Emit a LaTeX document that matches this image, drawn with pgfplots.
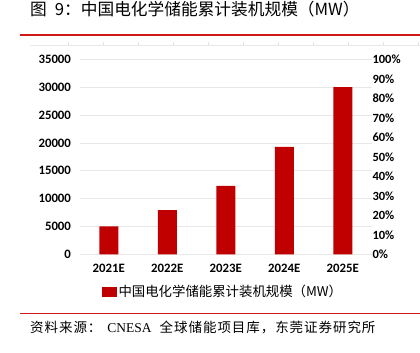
\documentclass[border=0pt]{standalone}
\usepackage{fontspec}
\setmainfont{Carlito}
\newfontfamily\cjk{Noto Sans CJK SC}
\newfontfamily\cjksrc[LetterSpace=7]{Noto Sans CJK SC}
\newfontfamily\serif{Liberation Serif}
\usepackage{pgfplots}
\pgfplotsset{compat=1.18}
\definecolor{barred}{HTML}{C00000}
\definecolor{linered}{HTML}{D01818}
\begin{document}
\begin{tikzpicture}[x=1pt,y=1pt]
\path[use as bounding box] (0,0) rectangle (420,353);
\node[anchor=base west, inner sep=0] at (30,337) {\cjk\fontsize{16.7}{18}\selectfont 图\hspace{8pt}9：中国电化学储能累计装机规模（MW）};
\draw[linered, line width=1.3pt] (20,318) -- (420,318);
\draw[gray!18, line width=0.6pt] (30,308) -- (420,308);
\foreach \x in {68,103,...,418} \draw[gray!22, line width=0.6pt] (\x,308) -- (\x,310.5);
\draw[linered, line width=1.3pt] (20,39.7) -- (420,39.7);
\node[anchor=base west, inner sep=0] at (30,20) {\cjksrc\fontsize{13.5}{15}\selectfont 资料来源：\hspace{6pt}{\serif CNESA}\hspace{8pt}全球储能项目库，东莞证券研究所};

\begin{axis}[
  at={(79.5pt,98.7pt)}, anchor=south west, scale only axis,
  width=292.5pt, height=195pt,
  xmin=-0.5, xmax=4.5, ymin=0, ymax=35000,
  ytick={0,5000,10000,15000,20000,25000,30000,35000},
  scaled y ticks=false,
  xtick={0,1,2,3,4},
  xticklabels={2021E,2022E,2023E,2024E,2025E},
  axis line style={draw=none},
  major tick length=0pt,
  ymajorgrids, grid style={gray!18, line width=0.6pt},
  /pgf/number format/assume math mode=true,
  /pgf/number format/1000 sep={},
  tick label style={font=\bfseries\fontsize{12.8}{14}\selectfont, text=black},
  yticklabel style={xshift=-5pt},
  xticklabel style={yshift=-6pt},
  legend style={at={(0.49,-0.193)}, anchor=center, draw=none, fill=none,
    font=\cjk\fontsize{13.4}{15}\selectfont, inner sep=0pt},
  legend image code/.code={\fill[barred] (0pt,-5pt) rectangle (15pt,5pt);},
]
\addplot[ybar, bar width=19pt, fill=barred, draw=none] coordinates {(0,5000) (1,7950) (2,12300) (3,19300) (4,30000)};
\addlegendentry{中国电化学储能累计装机规模（MW）}
\end{axis}

\begin{axis}[
  at={(79.5pt,98.7pt)}, anchor=south west, scale only axis,
  width=292.5pt, height=195pt,
  xmin=-0.5, xmax=4.5, ymin=0, ymax=1,
  axis y line*=right, axis x line=none,
  axis line style={draw=none},
  major tick length=0pt,
  ytick={0,0.1,0.2,0.3,0.4,0.5,0.6,0.7,0.8,0.9,1},
  yticklabels={0\%,10\%,20\%,30\%,40\%,50\%,60\%,70\%,80\%,90\%,100\%},
  tick label style={font=\bfseries\fontsize{12.5}{14}\selectfont, text=black},
  yticklabel style={xshift=-3pt},
]
\addplot[draw=none] coordinates {(0,0)};
\end{axis}
\end{tikzpicture}
\end{document}
